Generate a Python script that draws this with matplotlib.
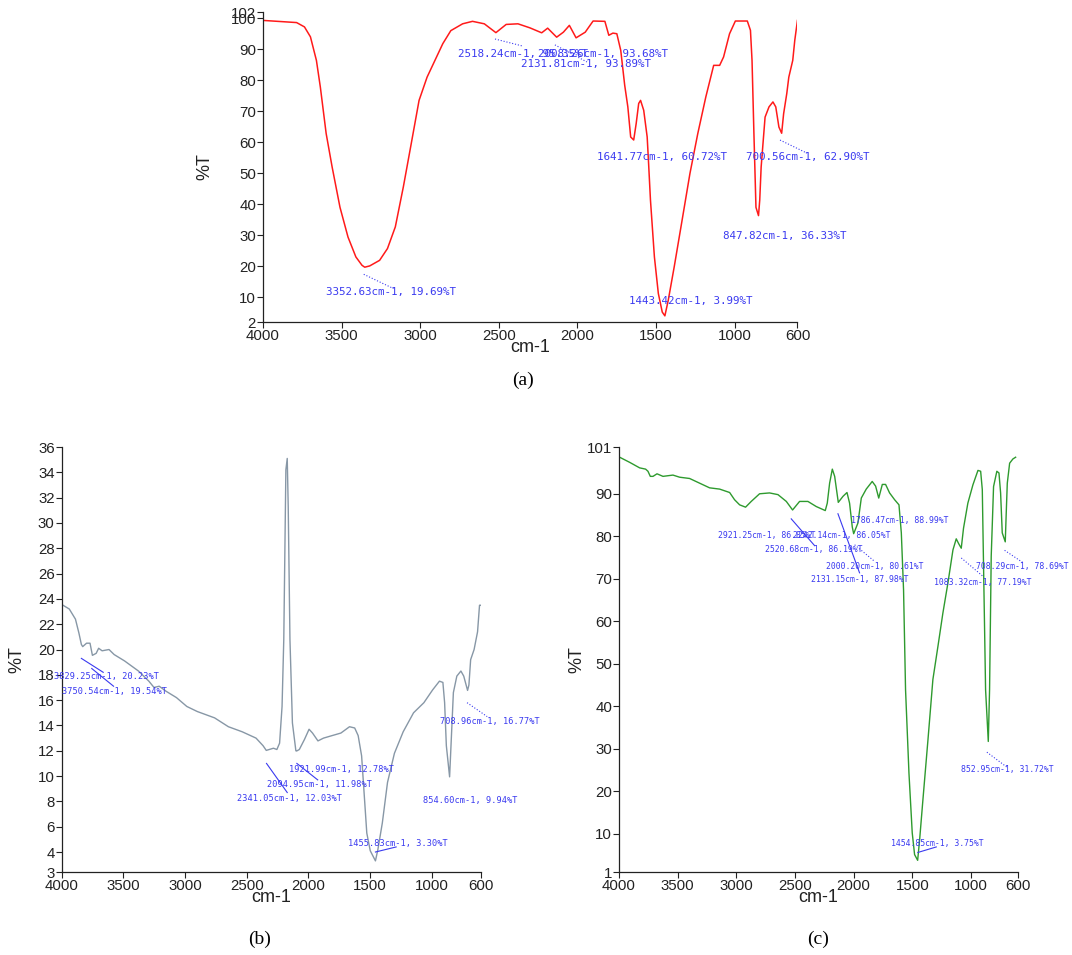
import matplotlib
matplotlib.use("Agg")
import matplotlib.pyplot as plt

# ---------------- data: panel (a) ----------------
a_wn = [4000, 3786, 3736, 3698, 3660, 3635, 3598, 3560, 3510, 3459, 3409, 3370, 3352.63, 3321, 3258, 3208,
        3158, 3107, 3057, 3007, 2956, 2906, 2856, 2805, 2730, 2667, 2592, 2518.24, 2453, 2378, 2302, 2227,
        2189, 2131.81, 2089, 2051, 2008.26, 1950, 1900, 1825, 1800, 1774, 1749, 1724, 1699, 1679, 1661,
        1641.77, 1626, 1610, 1598, 1578, 1556, 1548, 1535, 1510, 1485, 1460, 1443.42, 1422, 1384, 1334,
        1284, 1234, 1183, 1133, 1095, 1070, 1032, 995, 919, 899, 889, 877, 864, 847.82, 840, 831, 806, 781,
        756, 738, 718, 700.56, 688, 668, 655, 630, 617, 600]
a_T = [99.3, 98.6, 97.2, 94.0, 86.4, 77.8, 62.8, 52.0, 39.0, 29.4, 23.0, 20.3, 19.69, 20.1, 21.9, 25.7,
       32.7, 45.6, 59.5, 73.5, 81.0, 86.4, 91.8, 96.0, 98.2, 99.0, 98.2, 95.35, 98.0, 98.2, 96.9, 95.3,
       96.8, 93.89, 95.5, 97.7, 93.68, 95.5, 99.1, 99.0, 94.5, 95.2, 95.0, 89.6, 78.4, 71.4, 61.7,
       60.72, 66.0, 72.5, 73.5, 70.3, 61.7, 54.2, 41.3, 23.0, 11.2, 5.2, 3.99, 9.0, 19.8, 34.8,
       49.9, 62.8, 74.6, 84.8, 84.8, 87.5, 95.0, 99.1, 99.1, 96.1, 86.4, 62.8, 39.0, 36.33, 41.3, 52.0, 68.1, 71.4,
       73.0, 71.4, 64.9, 62.90, 69.2, 75.7, 81.0, 86.4, 92.9, 99.3]

# ---------------- data: panel (b) ----------------
b_wn = [3989, 3938, 3888, 3860, 3840, 3829.25, 3798, 3770, 3750.54, 3720, 3700, 3672, 3616, 3574, 3490,
        3377, 3293, 3251, 3209, 3153, 3069, 2985, 2900, 2760, 2648, 2536, 2424, 2367, 2341.05, 2283, 2255,
        2233, 2213, 2199, 2182, 2171, 2163, 2149, 2129, 2101, 2094.95, 2073, 2031, 1994, 1966, 1921.99,
        1877, 1807, 1736, 1666, 1624, 1596, 1568, 1548, 1526, 1498, 1455.83, 1436, 1400, 1358, 1302, 1231,
        1147, 1063, 993, 937, 909, 895, 881, 854.60, 847, 824, 796, 763, 740, 708.96, 698, 684, 656, 628,
        612, 606]
b_T = [23.5, 23.2, 22.4, 21.3, 20.4, 20.23, 20.5, 20.5, 19.54, 19.7, 20.1, 19.9, 20.0, 19.6, 19.1,
       18.3, 17.5, 17.0, 17.1, 16.7, 16.2, 15.5, 15.1, 14.6, 13.9, 13.5, 13.0, 12.4, 12.03, 12.2, 12.1,
       12.6, 15.5, 20.8, 34.2, 35.1, 31.3, 20.8, 14.2, 12.0, 11.98, 12.1, 12.9, 13.7, 13.4, 12.78,
       13.0, 13.2, 13.4, 13.9, 13.8, 13.2, 11.6, 8.7, 5.5, 4.1, 3.30, 4.2, 6.3, 9.5, 11.8, 13.5,
       15.0, 15.8, 16.8, 17.5, 17.4, 15.8, 12.4, 9.94, 11.6, 16.6, 17.9, 18.3, 17.9, 16.77, 17.2, 19.2, 20.0, 21.4,
       23.5, 23.5]

# ---------------- data: panel (c) ----------------
c_wn = [3994, 3909, 3824, 3773, 3753, 3733, 3710, 3676, 3625, 3540, 3483, 3398, 3313, 3228, 3142, 3057,
        3015, 2972, 2921.25, 2873, 2802, 2717, 2645, 2574, 2520.68, 2461, 2390, 2319, 2242.14, 2225, 2205,
        2182, 2162, 2131.15, 2091, 2057, 2035, 2012, 2000.20, 1964, 1935, 1893, 1842, 1813, 1786.47, 1756,
        1728, 1694, 1651, 1614, 1594, 1575, 1558, 1529, 1501, 1481, 1454.85, 1438, 1410, 1367, 1325, 1282,
        1240, 1197, 1154, 1126, 1106, 1083.32, 1064, 1027, 984, 941, 918, 904, 890, 876, 852.95, 842, 828,
        808, 780, 762, 748, 734, 708.29, 700, 691, 671, 643, 620]
c_T = [98.6, 97.4, 96.1, 95.8, 95.3, 94.1, 94.1, 94.7, 94.1, 94.4, 93.9, 93.6, 92.5, 91.4, 91.1, 90.3,
       88.6, 87.4, 86.85, 88.2, 90.0, 90.2, 89.8, 88.2, 86.19, 88.2, 88.2, 87.0, 86.05, 87.8, 92.5,
       95.8, 94.1, 87.98, 89.4, 90.3, 87.8, 82.2, 80.61, 83.1, 89.0, 91.1, 92.9, 91.8, 88.99, 92.2,
       92.2, 90.2, 88.6, 87.4, 80.8, 67.4, 43.9, 24.3, 10.2, 5.1, 3.75, 8.6, 18.0, 32.1, 46.3, 54.1,
       61.9, 69.0, 76.8, 79.4, 78.3, 77.19, 81.9, 87.8, 92.1, 95.5, 95.3, 91.0, 67.4, 43.9, 31.72, 43.9, 75.3,
       91.7, 95.3, 94.9, 90.2, 80.8, 78.69, 85.5, 92.5, 97.2, 98.2, 98.6]

# ---------------- peak labels ----------------
a_labels = ["3352.63cm-1, 19.69%T", "1443.42cm-1, 3.99%T", "1641.77cm-1, 60.72%T", "700.56cm-1, 62.90%T",
            "847.82cm-1, 36.33%T", "2518.24cm-1, 95.35%T", "2008.26cm-1, 93.68%T", "2131.81cm-1, 93.89%T"]
b_labels = ["3829.25cm-1, 20.23%T", "3750.54cm-1, 19.54%T", "2341.05cm-1, 12.03%T", "2094.95cm-1, 11.98%T",
            "1921.99cm-1, 12.78%T", "1455.83cm-1, 3.30%T", "854.60cm-1, 9.94%T", "708.96cm-1, 16.77%T"]
c_labels = ["2921.25cm-1, 86.85%T", "2242.14cm-1, 86.05%T", "2520.68cm-1, 86.19%T", "1786.47cm-1, 88.99%T",
            "2000.20cm-1, 80.61%T", "2131.15cm-1, 87.98%T", "1083.32cm-1, 77.19%T", "708.29cm-1, 78.69%T",
            "852.95cm-1, 31.72%T", "1454.85cm-1, 3.75%T"]

x_ticks = [4000, 3500, 3000, 2500, 2000, 1500, 1000, 600]
a_yticks = [2, 10, 20, 30, 40, 50, 60, 70, 80, 90, 100, 102]
b_yticks = [2.42, 4, 6, 8, 10, 12, 14, 16, 18, 20, 22, 24, 26, 28, 30, 32, 34, 36]
b_yticklabels = ["3", "4", "6", "8", "10", "12", "14", "16", "18", "20", "22", "24", "26", "28", "30", "32", "34", "36"]
c_yticks = [1, 10, 20, 30, 40, 50, 60, 70, 80, 90, 101]

TICKFONT = ["Liberation Sans", "DejaVu Sans"]
ANNCOL = "#3a3af0"

fig = plt.figure(figsize=(10.72, 9.55), dpi=100)
fig.patch.set_facecolor("white")


def style(ax, yticks, ylabels, ylim):
    ax.set_xlim(4000, 600)
    ax.set_ylim(*ylim)
    ax.set_xticks(x_ticks)
    ax.set_xticklabels([str(t) for t in x_ticks], family=TICKFONT, fontsize=10.8, color="#222222")
    ax.set_yticks(yticks)
    ax.set_yticklabels(ylabels, family=TICKFONT, fontsize=10.8, color="#222222")
    for s in ["top", "right"]:
        ax.spines[s].set_visible(False)
    for s in ["left", "bottom"]:
        ax.spines[s].set_linewidth(0.9)
        ax.spines[s].set_color("#222222")
    ax.tick_params(direction="out", length=4, width=0.8, pad=1, colors="#222222")
    ax.set_xlabel("cm-1", family=TICKFONT, fontsize=13, labelpad=-3, color="#222222")
    ax.set_ylabel("%T", family=TICKFONT, fontsize=13, color="#222222")


def ann(ax, text, x, y, size):
    ax.text(x, y, text, color=ANNCOL, fontsize=size, family="DejaVu Sans Mono", clip_on=False,
            va="center", ha="left")


def lead(ax, x1, y1, x2, y2, ls=":"):
    ax.plot([x1, x2], [y1, y2], color=ANNCOL, lw=0.8, ls=ls, clip_on=False)


# ---------------- panel (a) ----------------
SA = 7.8
axa = fig.add_axes([0.2453, 0.6628, 0.4986, 0.3246])
axa.plot(a_wn, a_T, color="#ff1a1a", lw=1.1)
style(axa, a_yticks, [str(t) for t in a_yticks], (2, 102))
axa.yaxis.set_label_coords(-0.092, 0.5)
ann(axa, a_labels[0], 3598, 11.6, SA)
lead(axa, 3359, 17.4, 3170, 12.8)
ann(axa, a_labels[1], 1674, 8.8, SA)
ann(axa, a_labels[2], 1875, 55.3, SA)
ann(axa, a_labels[3], 928, 55.3, SA)
lead(axa, 711, 60.7, 540, 56.5)
ann(axa, a_labels[4], 1074, 29.7, SA)
ann(axa, a_labels[5], 2760, 88.5, SA)
ann(axa, a_labels[6], 2251, 88.5, SA)
ann(axa, a_labels[7], 2359, 85.2, SA)
lead(axa, 2524, 93.3, 2346, 91.0)
lead(axa, 2143, 91.4, 1939, 85.9)
fig.text(0.488, 0.602, "(a)", family=["Liberation Serif", "DejaVu Serif"], fontsize=14, ha="center", va="center")

# ---------------- panel (b) ----------------
SB = 6.2
axb = fig.add_axes([0.0575, 0.0869, 0.3912, 0.4450])
axb.plot(b_wn, b_T, color="#8797a6", lw=1.0)
style(axb, b_yticks, b_yticklabels, (2.42, 36))
axb.yaxis.set_label_coords(-0.086, 0.5)
ann(axb, b_labels[0], 4064, 17.9, SB)
ann(axb, b_labels[1], 3994, 16.7, SB)
lead(axb, 3840, 19.3, 3663, 18.2, "-")
lead(axb, 3756, 18.5, 3579, 17.1, "-")
ann(axb, b_labels[2], 2578, 8.2, SB)
lead(axb, 2339, 11.0, 2171, 8.7, "-")
ann(axb, b_labels[3], 2334, 9.3, SB)
ann(axb, b_labels[4], 2154, 10.5, SB)
lead(axb, 2093, 11.0, 1924, 9.7, "-")
ann(axb, b_labels[5], 1680, 4.7, SB)
lead(axb, 1456, 4.0, 1288, 4.4, "-")
ann(axb, b_labels[6], 1072, 8.1, SB)
ann(axb, b_labels[7], 931, 14.3, SB)
lead(axb, 713, 15.8, 550, 14.7)
fig.text(0.2425, 0.016, "(b)", family=["Liberation Serif", "DejaVu Serif"], fontsize=14, ha="center", va="center")

# ---------------- panel (c) ----------------
SC = 5.9
axc = fig.add_axes([0.5774, 0.0869, 0.3722, 0.4450])
axc.plot(c_wn, c_T, color="#2e9a2e", lw=1.0)
style(axc, c_yticks, [str(t) for t in c_yticks], (1, 101))
axc.yaxis.set_label_coords(-0.083, 0.5)
ann(axc, c_labels[0], 3157, 80.1, SC)
ann(axc, c_labels[1], 2515, 80.1, SC)
ann(axc, c_labels[2], 2753, 76.8, SC)
ann(axc, c_labels[3], 2026, 83.7, SC)
ann(axc, c_labels[4], 2234, 72.8, SC)
ann(axc, c_labels[5], 2361, 69.8, SC)
ann(axc, c_labels[6], 1316, 69.2, SC)
ann(axc, c_labels[7], 960, 72.8, SC)
ann(axc, c_labels[8], 1083, 25.1, SC)
ann(axc, c_labels[9], 1680, 7.8, SC)
lead(axc, 2532, 84.1, 2333, 77.8, "-")
lead(axc, 2134, 85.3, 1950, 71.4, "-")
lead(axc, 1992, 78.0, 1822, 74.1)
lead(axc, 1083, 74.9, 899, 70.6)
lead(axc, 714, 76.7, 552, 73.7)
lead(axc, 865, 29.2, 686, 25.5)
lead(axc, 1453, 5.6, 1296, 6.9, "-")
fig.text(0.763, 0.016, "(c)", family=["Liberation Serif", "DejaVu Serif"], fontsize=14, ha="center", va="center")

fig.savefig("out.png", dpi=100, facecolor="white")
